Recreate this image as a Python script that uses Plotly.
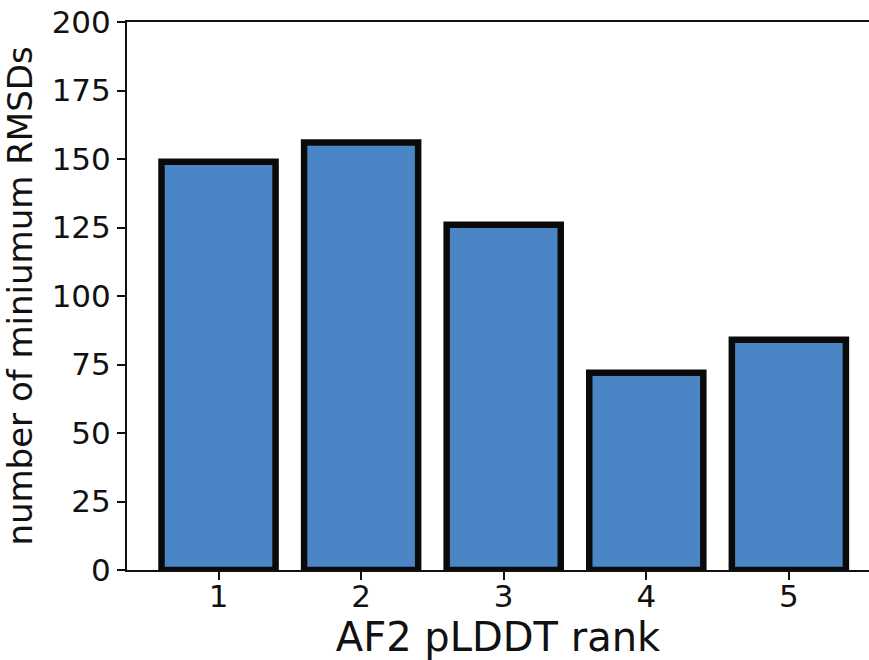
import plotly.graph_objects as go

ranks = [1, 2, 3, 4, 5]
rank_labels = ["1", "2", "3", "4", "5"]
counts = [149, 156, 126, 72, 84]
y_ticks = [0, 25, 50, 75, 100, 125, 150, 175, 200]

fig = go.Figure()
fig.add_trace(go.Bar(
    x=ranks, y=counts, width=0.8,
    marker=dict(color="#4A86C5", line=dict(color="#0a0a0a", width=6.5)),
))

font = "DejaVu Sans"
fig.update_layout(
    width=869, height=660,
    margin=dict(l=127, r=0, t=22, b=90),
    paper_bgcolor="white", plot_bgcolor="white",
    showlegend=False,
    font=dict(family=font, color="#111111"),
    xaxis=dict(
        range=[0.358, 5.562], tickvals=ranks, ticktext=rank_labels,
        showline=True, linecolor="#111111", linewidth=2, mirror=True,
        ticks="outside", ticklen=8, tickwidth=2, tickcolor="#111111",
        tickfont=dict(size=31, family=font), ticklabelstandoff=-10,
        showgrid=False, zeroline=False,
        title=dict(text="AF2 pLDDT rank", font=dict(size=40, family=font), standoff=6),
    ),
    yaxis=dict(
        range=[0, 200], tickvals=y_ticks,
        showline=True, linecolor="#111111", linewidth=2, mirror=False,
        ticks="outside", ticklen=8, tickwidth=2, tickcolor="#111111",
        tickfont=dict(size=31, family=font),
        showgrid=False, zeroline=False,
        title=dict(text="number of miniumum RMSDs", font=dict(size=34, family=font), standoff=10),
    ),
)
fig.write_html("out.html")
